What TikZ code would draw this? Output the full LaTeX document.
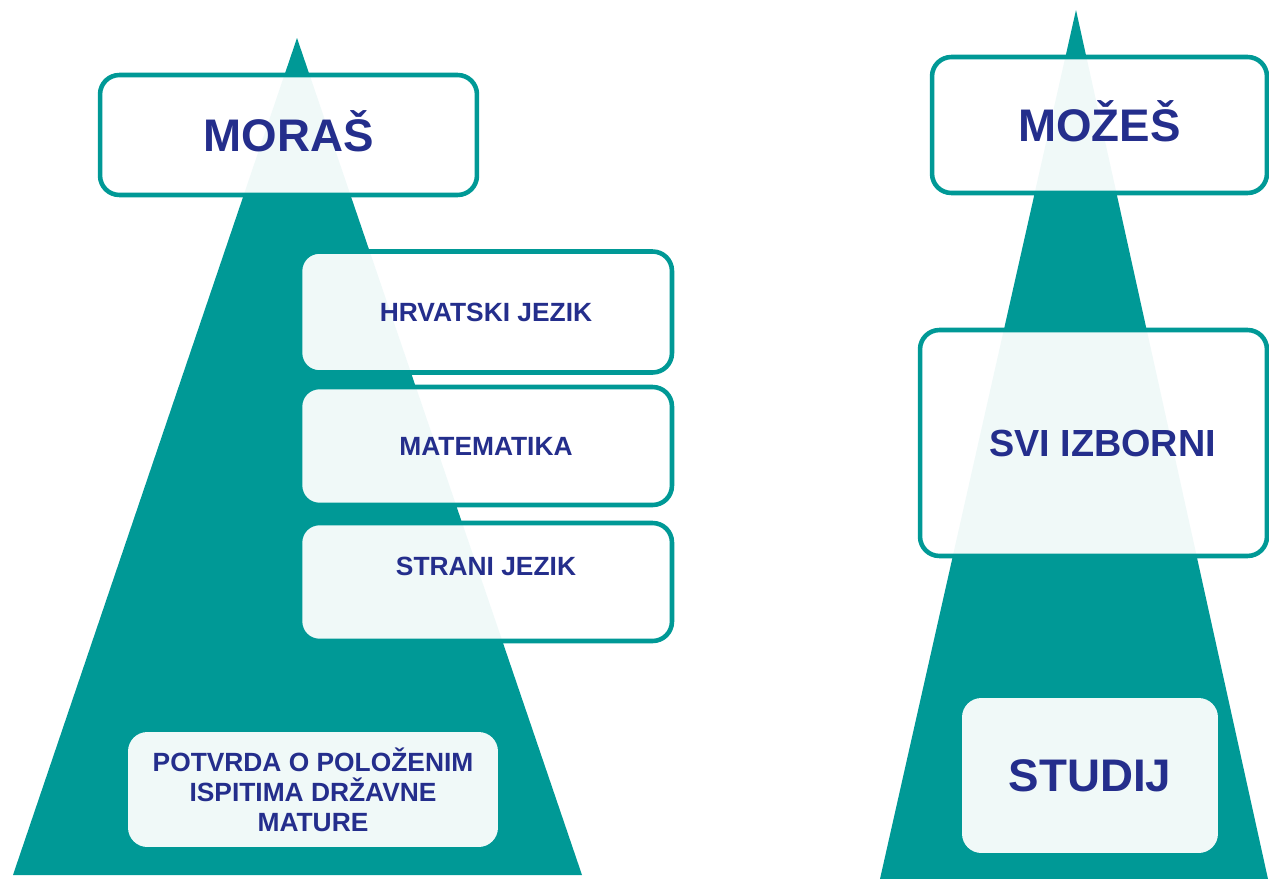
\documentclass[tikz,border=0pt]{standalone}
\usepackage{fontspec}
\setmainfont{Liberation Sans}
\definecolor{piramida}{RGB}{0,153,150}
\definecolor{tekst}{RGB}{36,46,140}

\begin{document}
\begin{tikzpicture}
  [x=0.02cm,y=-0.02cm,
   box/.style={draw=piramida,line width=2.6pt,fill=white,fill opacity=.94,text opacity=1,
     rounded corners=11pt,text=tekst,align=center,
     font=\bfseries\fontsize{15pt}{17pt}\selectfont},
   plain/.style={box,draw=none},
   big/.style={font=\bfseries\fontsize{26pt}{30pt}\selectfont,text height=18.6pt,text depth=0pt}]
  \useasboundingbox (0,0) rectangle (1269,879);

  % pyramids
  \fill[piramida] (297,38) -- (13,875) -- (582,875) -- cycle;
  \fill[piramida] (1076,10) -- (880,879) -- (1268,879) -- cycle;

  % left: moras
  \node[box,big,minimum width=7.54cm,minimum height=2.4cm] (moras) at (288.5,135) {MORAŠ};
  \node[box,minimum width=7.44cm,minimum height=2.42cm] (hrv) at (486,312) {HRVATSKI JEZIK};
  \node[box,minimum width=7.44cm,minimum height=2.36cm] (mat) at (486,446) {MATEMATIKA};
  \node[box,minimum width=7.44cm,minimum height=2.36cm,text height=10.7pt,text depth=18pt] (str) at (486,582) {STRANI JEZIK};
  \node[plain,minimum width=7.4cm,minimum height=2.3cm] (potvrda) at (313,789.5)
    {POTVRDA O POLOŽENIM\\ISPITIMA DRŽAVNE\\MATURE};

  % right: mozes
  \node[box,big,minimum width=6.7cm,minimum height=2.72cm] (mozes) at (1099.5,125) {MOŽEŠ};
  \node[box,font=\bfseries\fontsize{21.5pt}{25pt}\selectfont,
    minimum width=6.94cm,minimum height=4.52cm] (izborni) at (1093.5,443) {\hspace*{0.36cm}SVI IZBORNI};
  \node[plain,big,minimum width=5.12cm,minimum height=3.1cm] (studij) at (1090,775.5) {STUDIJ};

\end{tikzpicture}
\end{document}
